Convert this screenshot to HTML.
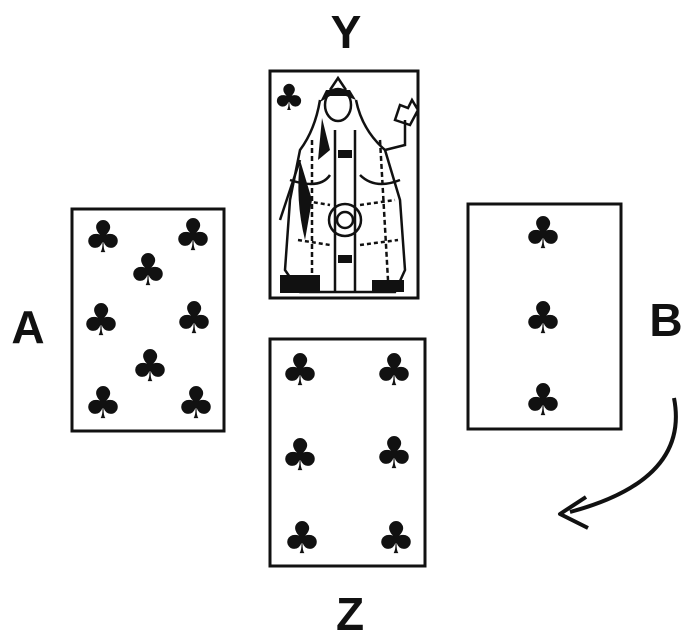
<!DOCTYPE html>
<html><head><style>
html,body{margin:0;padding:0;background:#fff;}
svg{display:block;}
</style></head><body>
<svg width="700" height="636" viewBox="0 0 700 636" xmlns="http://www.w3.org/2000/svg">
<rect width="700" height="636" fill="#fff"/>
<g fill="none" stroke="#111" stroke-width="3">
<rect x="72" y="209" width="152" height="222"/>
<rect x="270" y="71" width="148" height="227"/>
<rect x="468" y="204" width="153" height="225"/>
<rect x="270" y="339" width="155" height="227"/>
</g>
<g font-family="Liberation Sans, DejaVu Sans, sans-serif" font-weight="bold" font-size="46" fill="#111" text-anchor="middle">
<text x="346" y="48">Y</text>
<text x="28" y="343">A</text>
<text x="666" y="336">B</text>
<text x="350" y="630">Z</text>
</g>
<g font-family="DejaVu Sans, sans-serif" font-size="44" fill="#111" text-anchor="middle">
<text x="103" y="252">♣</text><text x="193" y="250">♣</text><text x="148" y="285">♣</text>
<text x="101" y="335">♣</text><text x="194" y="333">♣</text><text x="150" y="381">♣</text>
<text x="103" y="418">♣</text><text x="196" y="418">♣</text>
<text x="543" y="248">♣</text><text x="543" y="333">♣</text><text x="543" y="415">♣</text>
<text x="300" y="385">♣</text><text x="394" y="385">♣</text><text x="300" y="470">♣</text>
<text x="394" y="468">♣</text><text x="302" y="553">♣</text><text x="396" y="553">♣</text>
<text x="289" y="110" font-size="36">♣</text>
</g>
<!-- queen figure -->
<g fill="none" stroke="#111" stroke-width="2.5">
<path d="M330 90 L338 78 L346 90"/>
<ellipse cx="338" cy="105" rx="13" ry="16"/>
<path d="M320 100 Q315 130 300 150 L290 200 L285 270 L300 292 L395 292 L405 270 L400 200 L385 150 Q362 130 356 100"/>
<circle cx="345" cy="220" r="16"/>
<circle cx="345" cy="220" r="8"/>
<path d="M335 130 L335 292 M355 130 L355 292"/>
<path d="M300 160 L280 220 M385 150 L405 145 L405 120"/>
<path d="M395 120 L400 105 L408 108 L412 100 L418 110 L410 125 Z"/>
<path d="M290 180 Q320 190 330 175 M360 175 Q375 190 400 180"/>
<path d="M300 200 L330 205 M360 205 L395 200 M298 240 L330 245 M360 245 L398 240" stroke-dasharray="4 3"/>
<path d="M312 140 L312 280 M380 140 L388 280" stroke-dasharray="5 3"/>
</g>
<g fill="#111">
<rect x="280" y="275" width="40" height="18"/>
<rect x="372" y="280" width="32" height="12"/>
<path d="M322 118 L318 160 L330 150 Z"/>
<path d="M300 160 Q295 200 305 240 L312 200 Z"/>
<path d="M326 90 L350 90 L356 100 L346 96 L330 96 L320 102 Z"/>
<rect x="338" y="150" width="14" height="8"/>
<rect x="338" y="255" width="14" height="8"/>
</g>
<!-- arrow -->
<path d="M674 398 Q690 480 570 512" fill="none" stroke="#111" stroke-width="4"/>
<path d="M586 497 L560 514 L588 528" fill="none" stroke="#111" stroke-width="4" stroke-linejoin="round"/>
</svg>
</body></html>
